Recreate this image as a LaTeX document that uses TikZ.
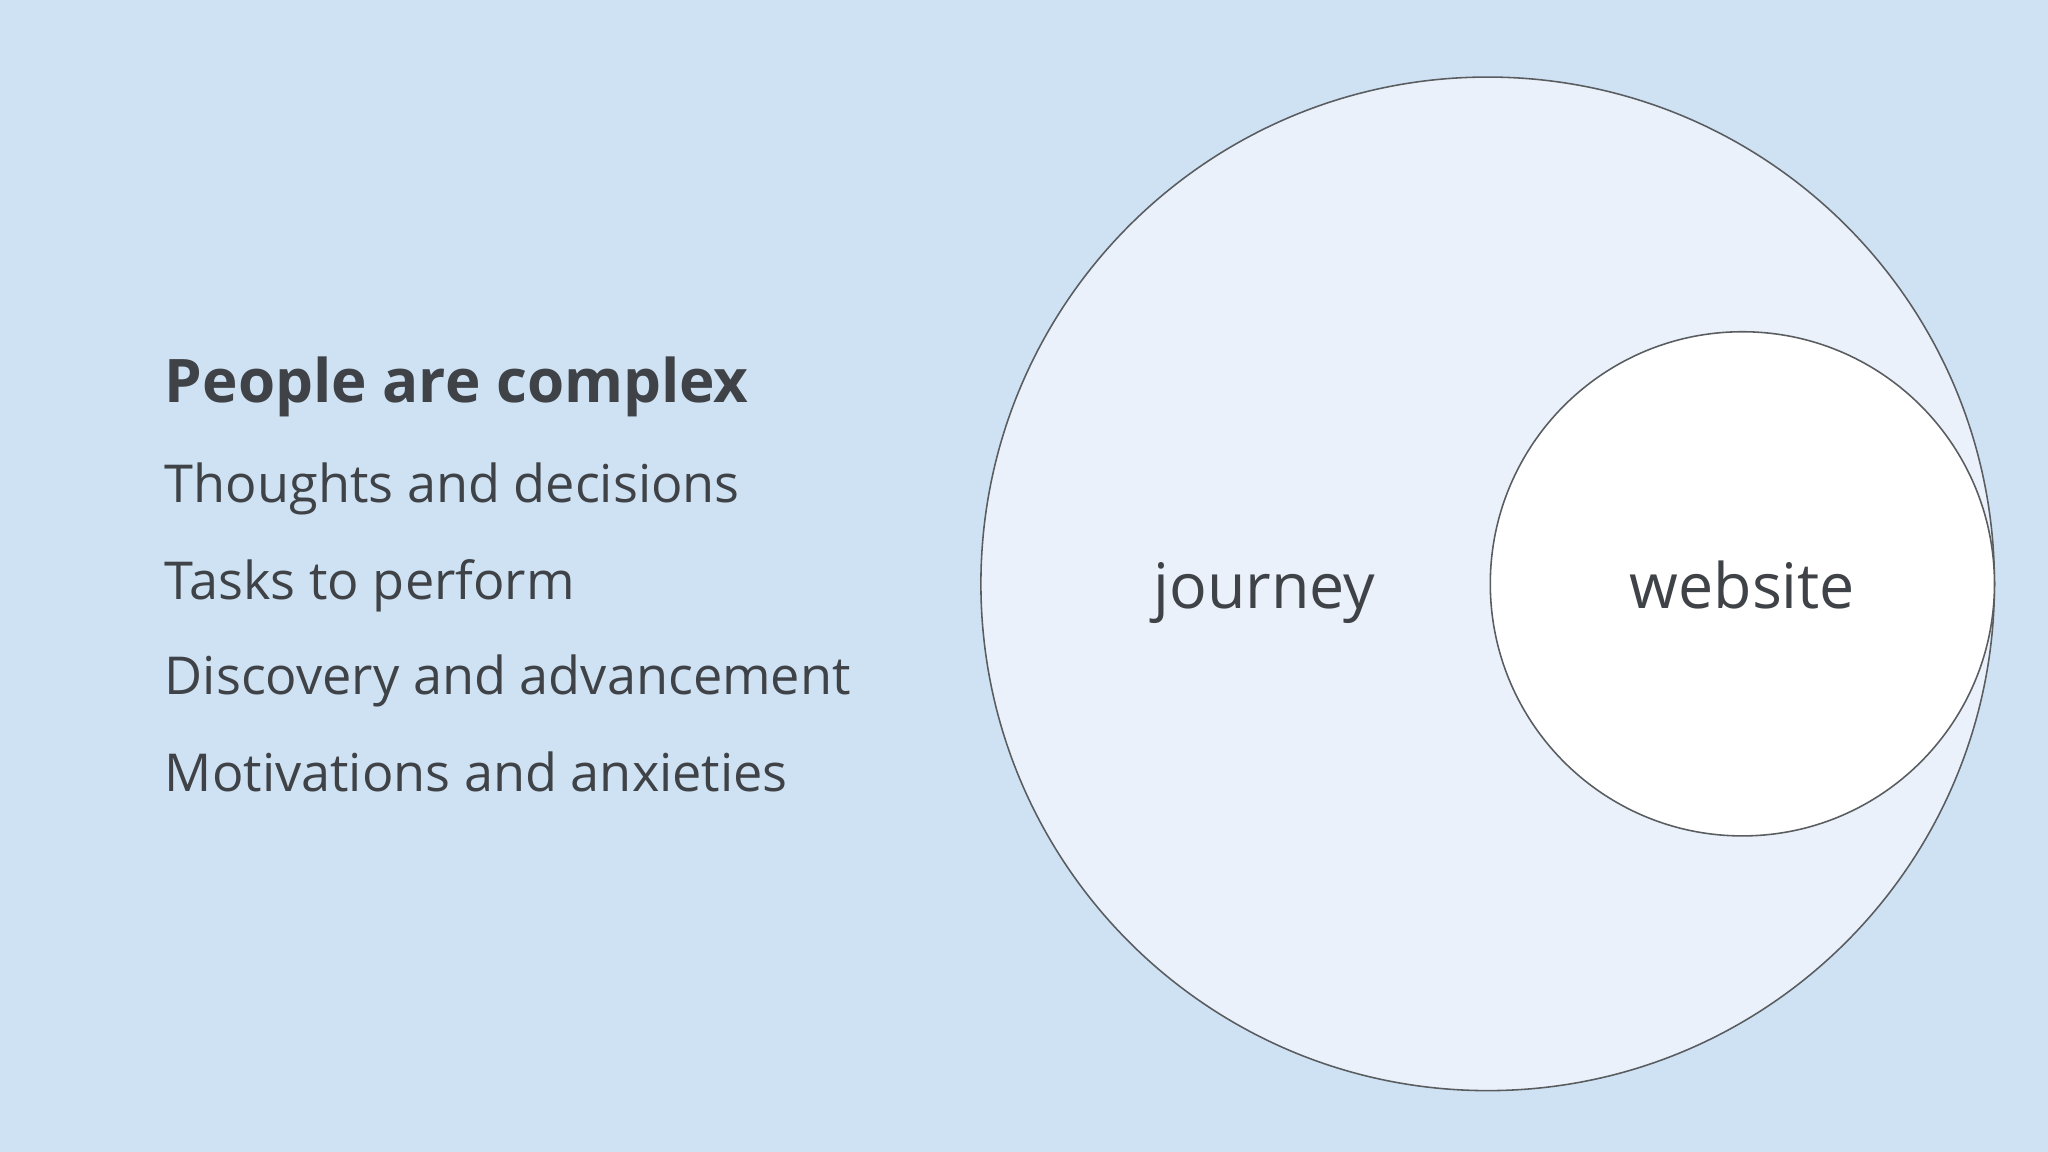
\documentclass[tikz,border=0pt]{standalone}
\usepackage{fontspec}
\setmainfont{Open Sans}
\definecolor{bg}{HTML}{CFE2F3}
\definecolor{bigfill}{HTML}{EAF1FA}
\definecolor{txt}{HTML}{3F4347}
\definecolor{ln}{HTML}{5A5D60}
\begin{document}
\begin{tikzpicture}[x=1pt,y=-1pt,
  item/.style={anchor=base west,inner sep=0,text=txt,font=\fontsize{40}{48}\selectfont},
  circ/.style={draw=ln,line width=1.2pt}]
\fill[bg] (0,0) rectangle (1568,882);
\useasboundingbox (0,0) rectangle (1568,882);
\node[circ,fill=bigfill,circle,minimum size=776,inner sep=0] (journeyc) at (1139,447) {};
\node[circ,fill=white,circle,minimum size=386,inner sep=0] (websitec) at (1334,447) {};
\node[anchor=base,text=txt,font=\fontsize{48}{56}\selectfont,inner sep=0] (j) at (968,466) {journey};
\node[anchor=base,text=txt,font=\fontsize{48}{56}\selectfont,inner sep=0] (w) at (1334,466) {website};
\node[item,font=\bfseries\fontsize{46}{54}\selectfont] (t) at (126,308) {People are complex};
\node[item] (l1) at (126,385) {Thoughts and decisions};
\node[item] (l2) at (126,459) {Tasks to perform};
\node[item] (l3) at (126,532) {Discovery and advancement};
\node[item] (l4) at (126,606) {Motivations and anxieties};
\end{tikzpicture}
\end{document}
